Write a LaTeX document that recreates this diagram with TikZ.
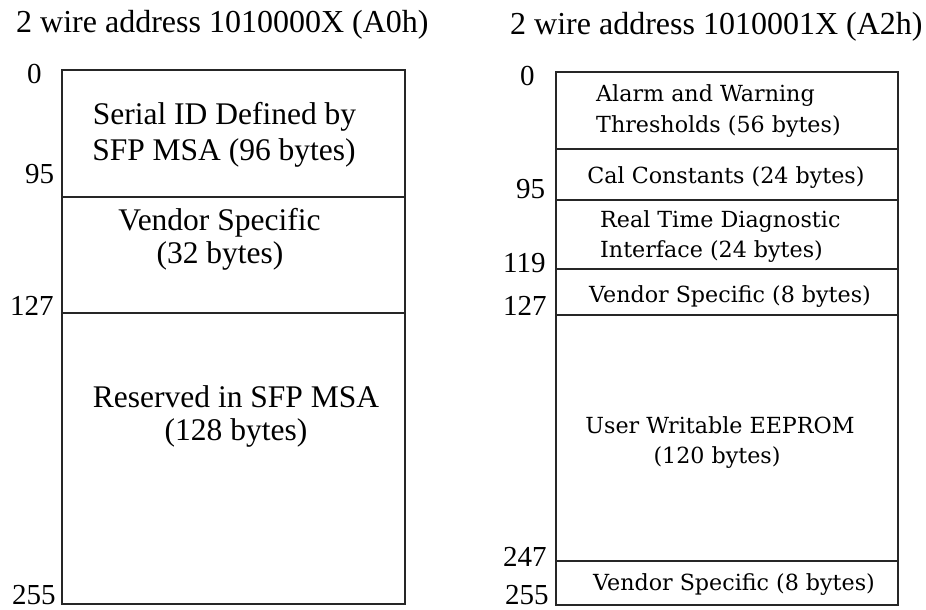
\documentclass[tikz,border=0pt]{standalone}
\usepackage{fontspec}
\setmainfont{Liberation Serif}
\newfontfamily\tms{Liberation Serif}
\newfontfamily\rfnt{DejaVu Serif}
\begin{document}
\begin{tikzpicture}[x=1pt,y=-1pt,
  boxline/.style={line width=1.2pt, draw=black!85},
  ttl/.style={anchor=base west, inner sep=0pt, font=\tms\fontsize{32}{36}\selectfont},
  addr/.style={anchor=base west, inner sep=0pt, font=\tms\fontsize{29}{34}\selectfont},
  ltxt/.style={anchor=base, inner sep=0pt, font=\tms\fontsize{31.5}{36}\selectfont},
  rtxt/.style={anchor=base, inner sep=0pt, font=\rfnt\fontsize{22.2}{26}\selectfont},
  rtxtw/.style={rtxt, anchor=base west}]
\useasboundingbox (0,0) rectangle (926,610);
% titles
\node[ttl] (t1) at (16,33) {2 wire address 1010000X (A0h)};
\node[ttl] (t2) at (510,35) {2 wire address 1010001X (A2h)};
% left map
\draw[boxline] (62,70) rectangle (405,604);
\draw[boxline] (62,197) -- (405,197);
\draw[boxline] (62,313) -- (405,313);
\node[addr] (la0) at (27,83) {0};
\node[addr] (la95) at (25,183) {95};
\node[addr] (la127) at (10,315) {127};
\node[addr] (la255) at (12,604) {255};
\node[ltxt] (l1a) at (224.5,124) {Serial ID Defined by};
\node[ltxt] (l1b) at (224,160) {SFP MSA (96 bytes)};
\node[ltxt] (l2a) at (219.5,230) {Vendor Specific};
\node[ltxt] (l2b) at (220,263) {(32 bytes)};
\node[ltxt] (l3a) at (236,407) {Reserved in SFP MSA};
\node[ltxt] (l3b) at (236,440) {(128 bytes)};
% right map
\draw[boxline] (556,72) rectangle (898,605);
\foreach \yy in {149,200,269,315,561} \draw[boxline] (556,\yy) -- (898,\yy);
\node[addr] (ra0) at (520,85) {0};
\node[addr] (ra95) at (516,198) {95};
\node[addr] (ra119) at (503,272) {119};
\node[addr] (ra127) at (503,315) {127};
\node[addr] (ra247) at (503,566) {247};
\node[addr] (ra255) at (505,604) {255};
\node[rtxtw] (r1a) at (596,101) {Alarm and Warning};
\node[rtxtw] (r1b) at (596,132) {Thresholds (56 bytes)};
\node[rtxt] (r2) at (726,183) {Cal Constants (24 bytes)};
\node[rtxtw] (r3a) at (600,227) {Real Time Diagnostic};
\node[rtxtw] (r3b) at (600,257) {Interface (24 bytes)};
\node[rtxt] (r4) at (730,302) {Vendor Specific (8 bytes)};
\node[rtxt] (r5a) at (720,433) {User Writable EEPROM};
\node[rtxt] (r5b) at (717,463) {(120 bytes)};
\node[rtxt] (r6) at (734,590) {Vendor Specific (8 bytes)};
\end{tikzpicture}
\end{document}
